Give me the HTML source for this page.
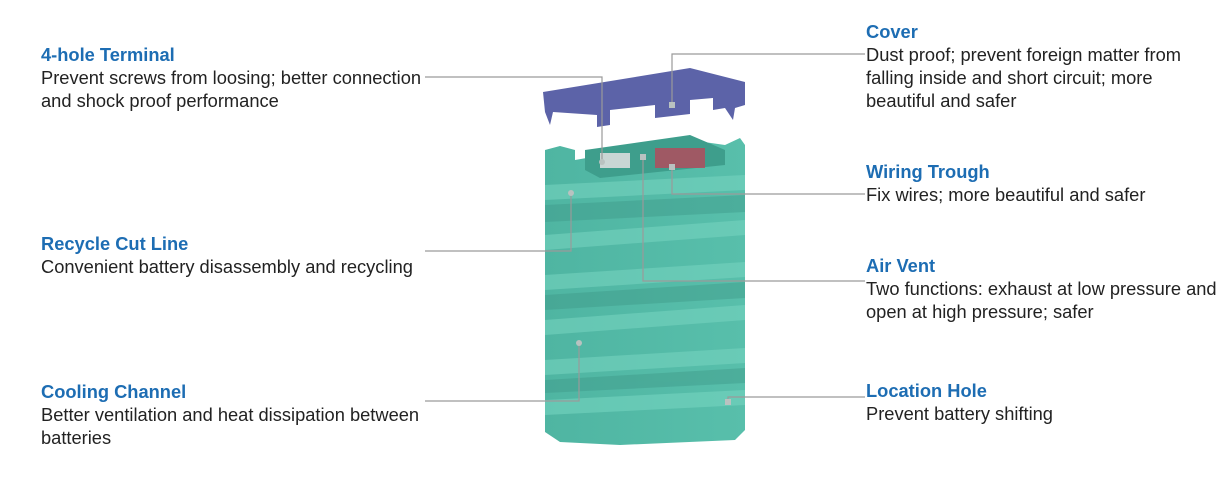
<!DOCTYPE html>
<html><head><style>
body{margin:0;width:1225px;height:497px;background:#fff;font-family:"Liberation Sans",sans-serif;position:relative;overflow:hidden}
.t{position:absolute;font-size:18.3px;line-height:23px;color:#222;white-space:nowrap}
.t b{color:#1d6db3;display:block}
</style></head><body>
<svg width="1225" height="497" style="position:absolute;left:0;top:0">
<defs><linearGradient id="g" x1="0" x2="1"><stop offset="0" stop-color="#4fb5a2"/><stop offset="1" stop-color="#58bfab"/></linearGradient></defs>
<polygon points="543,92 690,68 745,82 745,105 735,108 733,120 725,108 713,110 713,98 690,100 690,114 655,118 655,105 610,110 610,125 597,127 597,115 553,112 550,125 545,112" fill="#5c63a8"/>
<polygon points="545,150 560,146 575,150 575,160 690,140 725,145 740,138 745,145 745,430 735,440 620,445 560,442 545,432" fill="url(#g)"/>
<polygon points="585,150 690,135 725,150 725,165 600,178 585,170" fill="#3e9e8c"/>
<rect x="600" y="153" width="30" height="15" fill="#c9d6d4"/>
<rect x="655" y="148" width="50" height="20" fill="#b8475a" opacity=".8"/>
<g fill="#75d3bf" opacity=".6">
<polygon points="545,185 745,175 745,190 545,200"/>
<polygon points="545,235 745,220 745,235 545,250"/>
<polygon points="545,275 745,262 745,277 545,290"/>
<polygon points="545,320 745,305 745,320 545,335"/>
<polygon points="545,360 745,348 745,363 545,375"/>
<polygon points="545,400 745,390 745,405 545,415"/>
</g>
<g fill="#3f9a89" opacity=".45">
<polygon points="545,205 745,195 745,212 545,222"/>
<polygon points="545,295 745,282 745,298 545,310"/>
<polygon points="545,380 745,368 745,383 545,393"/>
</g>
<g stroke="#9a9a9a" stroke-width="1.2" fill="none">
<polyline points="425,77 602,77 602,162"/>
<polyline points="865,54 672,54 672,79 672,105"/>
<polyline points="865,194 672,194 672,167"/>
<polyline points="425,251 571,251 571,193"/>
<polyline points="865,281 643,281 643,157"/>
<polyline points="425,401 579,401 579,343"/>
<polyline points="865,397 728,397 728,402"/>
</g>
<g fill="#b9c2c0"><circle cx="602" cy="162" r="3"/><rect x="669" y="102" width="6" height="6"/><rect x="669" y="164" width="6" height="6"/><circle cx="571" cy="193" r="3"/><rect x="640" y="154" width="6" height="6"/><circle cx="579" cy="343" r="3"/><rect x="725" y="399" width="6" height="6"/></g>
</svg>
<div class="t" style="left:41px;top:43px"><b>4-hole Terminal</b>Prevent screws from loosing; better connection<br>and shock proof performance</div>
<div class="t" style="left:41px;top:232px"><b>Recycle Cut Line</b>Convenient battery disassembly and recycling</div>
<div class="t" style="left:41px;top:380px"><b>Cooling Channel</b>Better ventilation and heat dissipation between<br>batteries</div>
<div class="t" style="left:866px;top:20px"><b>Cover</b>Dust proof; prevent foreign matter from<br>falling inside and short circuit; more<br>beautiful and safer</div>
<div class="t" style="left:866px;top:160px"><b>Wiring Trough</b>Fix wires; more beautiful and safer</div>
<div class="t" style="left:866px;top:254px"><b>Air Vent</b>Two functions: exhaust at low pressure and<br>open at high pressure; safer</div>
<div class="t" style="left:866px;top:379px"><b>Location Hole</b>Prevent battery shifting</div>
</body></html>
